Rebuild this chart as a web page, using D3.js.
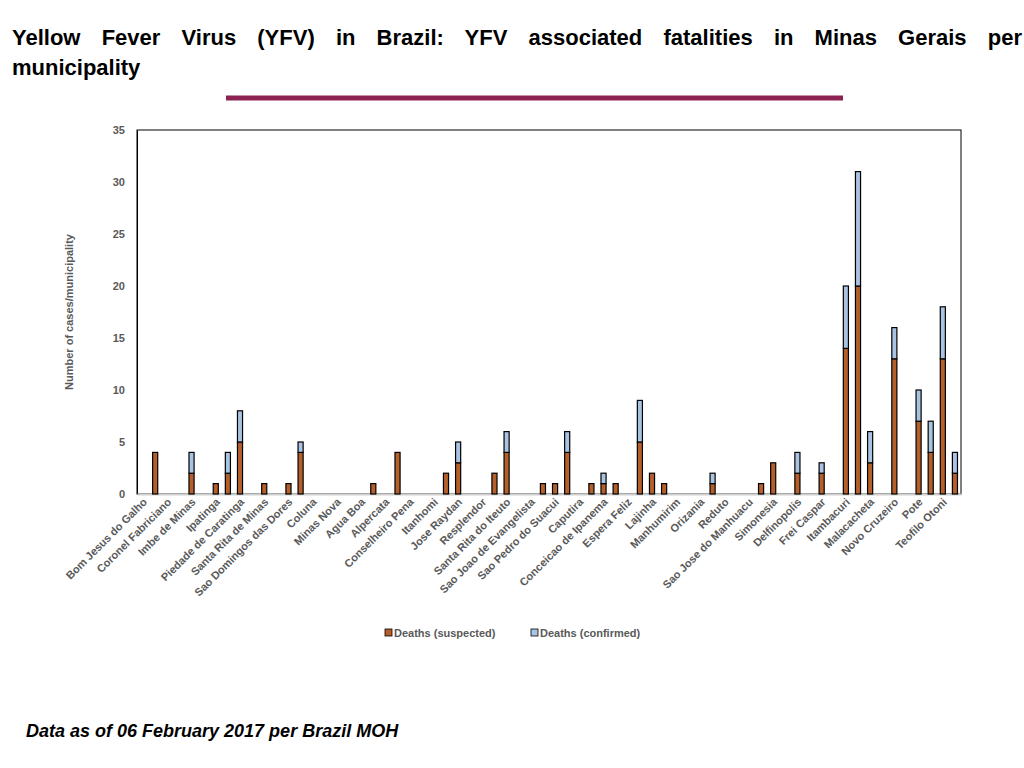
<!DOCTYPE html>
<html><head><meta charset="utf-8">
<script src="https://cdn.jsdelivr.net/npm/d3@7"></script>
<style>
body{margin:0;background:#fff;font-family:Arial,"Liberation Sans",sans-serif;}
#title{position:absolute;left:12px;top:23px;width:1010px;font-weight:bold;font-size:22px;line-height:30px;color:#000;}
#title .l1{text-align:justify;text-align-last:justify;}
#foot{position:absolute;left:26px;top:721px;font-weight:bold;font-style:italic;font-size:18px;}
svg{position:absolute;left:0;top:0;}
</style></head><body>
<svg width="1024" height="768"></svg>
<div id="title"><div class="l1">Yellow Fever Virus (YFV) in Brazil: YFV associated fatalities in Minas Gerais per</div><div>municipality</div></div>
<div id="foot">Data as of 06 February 2017 per Brazil MOH</div>
<script>
// labelled municipalities (every other category shows a label)
const labels = ["Bom Jesus do Galho","Coronel  Fabriciano","Imbe de Minas","Ipatinga","Piedade de Caratinga",
  "Santa Rita de Minas","Sao Domingos das Dores","Coluna","Minas Nova","Agua Boa","Alpercata","Conselheiro Pena",
  "Itanhomi","Jose Raydan","Resplendor","Santa Rita do Iteuto","Sao Joao de Evangelista","Sao Pedro do Suacui",
  "Caputira","Conceicao de Ipanema","Espera Feliz","Lajinha","Manhumirim","Orizania","Reduto",
  "Sao Jose do Manhuacu","Simonesia","Delfinopolis","Frei Caspar","Itambacuri","Malacacheta","Novo Cruzeiro",
  "Pote","Teofilo Otoni"];
// 68 category slots; labels sit on even slots
const categories = d3.range(68).map(i => i % 2 === 0 ? labels[i / 2] : "");
const suspected = [0,4,0,0,2,0,1,2,5,0,1,0,1,4,0,0,0,0,0,1,0,4,0,0,0,2,3,0,0,2,4,0,0,1,1,4,0,1,1,1,0,5,2,1,0,0,0,1,0,0,0,1,3,0,2,0,2,0,14,20,3,0,13,0,7,4,13,2];
const confirmed = [0,0,0,0,2,0,0,2,3,0,0,0,0,1,0,0,0,0,0,0,0,0,0,0,0,0,2,0,0,0,2,0,0,0,0,2,0,0,1,0,0,4,0,0,0,0,0,1,0,0,0,0,0,0,2,0,1,0,6,11,3,0,3,0,3,3,5,2];
const yTicks = [0,5,10,15,20,25,30,35];

const svg = d3.select("svg");
const mLeft = 137, mRight = 961, mTop = 130, mBottom = 494;
const grey = "#595959";

const x = d3.scaleBand().domain(d3.range(68)).range([mLeft, mRight]).paddingInner(0.58).paddingOuter(0.29);
const y = d3.scaleLinear().domain([0, 35]).range([mBottom, mTop]);

svg.append("line").attr("x1", 226).attr("x2", 843).attr("y1", 98).attr("y2", 98)
  .attr("stroke", "#8b2252").attr("stroke-width", 5);

svg.append("rect").attr("x", mLeft).attr("y", mTop).attr("width", mRight - mLeft).attr("height", mBottom - mTop)
  .attr("fill", "none").attr("stroke", "#000").attr("stroke-width", 1);

const yAxis = svg.append("g").attr("transform", `translate(${mLeft},0)`)
  .call(d3.axisLeft(y).tickValues(yTicks).tickSize(0).tickPadding(12));
yAxis.select(".domain").attr("stroke", "#000");
yAxis.selectAll("text").attr("font-size", 11).attr("font-weight", "bold").attr("fill", grey).attr("font-family", "Arial");

const xAxis = svg.append("g").attr("transform", `translate(0,${mBottom})`)
  .call(d3.axisBottom(x).tickSize(0).tickFormat(i => categories[i]));
xAxis.select(".domain").attr("stroke", "#d0d0d0").attr("stroke-width", 2);
xAxis.selectAll("text").attr("font-size", 11).attr("font-weight", "bold").attr("fill", grey)
  .attr("font-family", "Arial").attr("text-anchor", "end")
  .attr("transform", "translate(2,6) rotate(-45)").attr("dy", "0.35em").attr("y", 0).attr("x", 0);

const bars = svg.append("g");
bars.selectAll(".s").data(suspected).enter().append("rect")
  .attr("x", (d, i) => x(i)).attr("width", x.bandwidth())
  .attr("y", d => y(d)).attr("height", d => mBottom - y(d))
  .attr("fill", "#b5602b").attr("stroke", "#000").attr("stroke-width", 1.2)
  .style("display", d => d ? null : "none");
bars.selectAll(".c").data(confirmed).enter().append("rect")
  .attr("x", (d, i) => x(i)).attr("width", x.bandwidth())
  .attr("y", (d, i) => y(d + suspected[i])).attr("height", (d, i) => y(suspected[i]) - y(d + suspected[i]))
  .attr("fill", "#a9c4e2").attr("stroke", "#000").attr("stroke-width", 1.2)
  .style("display", d => d ? null : "none");

svg.append("text").attr("transform", "translate(73,312) rotate(-90)").attr("text-anchor", "middle")
  .attr("font-size", 11).attr("font-weight", "bold").attr("fill", grey).text("Number of cases/municipality");

const legend = [["Deaths (suspected)", "#b5602b", 385], ["Deaths (confirmed)", "#a9c4e2", 531]];
legend.forEach(([t, c, lx]) => {
  svg.append("rect").attr("x", lx).attr("y", 629).attr("width", 7).attr("height", 7)
    .attr("fill", c).attr("stroke", "#000").attr("stroke-width", 0.8);
  svg.append("text").attr("x", lx + 9).attr("y", 637).attr("font-size", 11).attr("font-weight", "bold")
    .attr("fill", grey).text(t);
});
</script>
</body></html>
